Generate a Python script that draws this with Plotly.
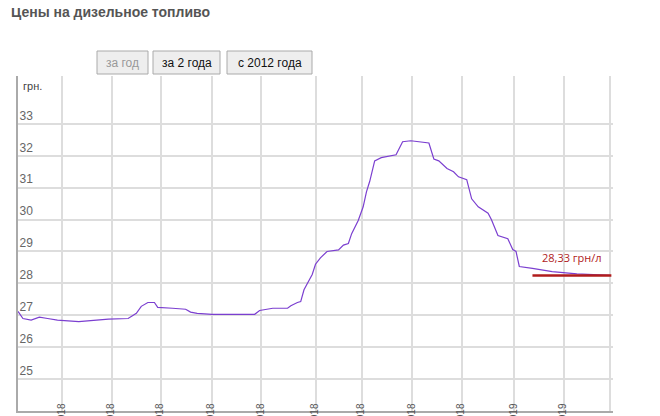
import plotly.graph_objects as go

# цены на дизель, грн/л
dates = [
    '2018-03-06', '2018-03-09', '2018-03-14', '2018-03-19', '2018-03-24', '2018-03-30',
    '2018-04-12', '2018-04-30', '2018-05-12', '2018-05-17', '2018-05-20', '2018-05-24',
    '2018-05-28', '2018-05-30', '2018-06-08', '2018-06-16', '2018-06-19', '2018-06-23',
    '2018-07-02', '2018-07-28', '2018-07-31', '2018-08-08', '2018-08-17', '2018-08-19',
    '2018-08-23', '2018-08-25', '2018-08-27', '2018-08-30', '2018-09-01', '2018-09-03',
    '2018-09-06', '2018-09-10', '2018-09-17', '2018-09-20', '2018-09-23', '2018-09-25',
    '2018-09-29', '2018-10-02', '2018-10-04', '2018-10-06', '2018-10-09', '2018-10-13',
    '2018-10-22', '2018-10-26', '2018-10-31', '2018-11-11', '2018-11-14', '2018-11-17',
    '2018-11-22', '2018-11-26', '2018-11-29', '2018-12-04', '2018-12-07', '2018-12-11',
    '2018-12-17', '2018-12-19', '2018-12-23', '2018-12-29', '2019-01-01', '2019-01-03',
    '2019-01-05', '2019-01-13', '2019-01-25', '2019-02-09', '2019-03-01',
]
prices = [
    27.12, 26.9, 26.85, 26.94, 26.9, 26.85,
    26.8, 26.88, 26.9, 27.06, 27.28, 27.4,
    27.4, 27.25, 27.22, 27.19, 27.1, 27.06,
    27.03, 27.03, 27.15, 27.22, 27.22, 27.3,
    27.4, 27.43, 27.8, 28.1, 28.28, 28.6,
    28.8, 29.0, 29.05, 29.2, 29.25, 29.56,
    29.97, 30.4, 30.87, 31.2, 31.84, 31.94,
    32.03, 32.44, 32.47, 32.4, 31.9, 31.84,
    31.6, 31.5, 31.34, 31.25, 30.65, 30.4,
    30.2, 30.0, 29.5, 29.4, 29.06, 29.0,
    28.53, 28.47, 28.37, 28.3, 28.25,
]
tick_dates = ['2018-04-02', '2018-05-02', '2018-06-01', '2018-07-02', '2018-08-01',
              '2018-09-03', '2018-10-01', '2018-11-01', '2018-12-01', '2019-01-02',
              '2019-02-01', '2019-03-01']
tick_text = ['02.04.2018', '02.05.2018', '01.06.2018', '02.07.2018', '01.08.2018',
             '03.09.2018', '01.10.2018', '01.11.2018', '01.12.2018', '02.01.2019',
             '01.02.2019', '01.03.2019']
y_ticks = [25, 26, 27, 28, 29, 30, 31, 32, 33]
current_price = 28.25
current_label = '28,33 грн/л'
buttons = ['за год', 'за 2 года', 'с 2012 года']

fig = go.Figure()
fig.add_trace(go.Scatter(x=dates, y=prices, mode='lines',
                         line=dict(color='#7b3fd0', width=1.2), hoverinfo='skip'))
fig.add_trace(go.Scatter(x=['2019-01-13', '2019-03-02'], y=[current_price] * 2, mode='lines',
                         line=dict(color='#b01c1c', width=2.5), hoverinfo='skip'))
fig.add_annotation(x='2019-02-06', y=current_price, text=current_label, showarrow=False,
                   yshift=18, font=dict(color='#b01c1c', size=11, family='Open Sans'))

fig.update_layout(
    width=660, height=416, showlegend=False,
    margin=dict(l=10, r=55, t=68, b=13, autoexpand=False),
    paper_bgcolor='white', plot_bgcolor='white',
    font=dict(family='Arial', color='#555'),
    xaxis=dict(range=['2018-03-06', '2019-03-03'], tickvals=tick_dates, ticktext=tick_text,
               tickangle=-90, ticklabelposition='inside left', tickfont=dict(size=10, color='#555'),
               showgrid=True, gridcolor='#ddd', gridwidth=1.5, automargin=False,
               showline=True, linecolor='#aaa', linewidth=2, zeroline=False),
    yaxis=dict(range=[24, 34.5], tickvals=y_ticks, ticklabelposition='inside top',
               tickfont=dict(size=12, color='#666'), automargin=False,
               showgrid=True, gridcolor='#ddd', gridwidth=1.5,
               showline=True, linecolor='#aaa', linewidth=2, zeroline=False),
)

fig.add_annotation(xref='paper', yref='paper', x=-0.015, y=1.19, xanchor='left', yanchor='middle',
                   text='<b>Цены на дизельное топливо</b>', showarrow=False,
                   font=dict(size=14, color='#555'))
fig.add_annotation(xref='paper', yref='paper', x=0.005, y=0.995, xanchor='left', yanchor='top',
                   text='грн.', showarrow=False, font=dict(size=11, color='#444'))

# кнопки периода
btn_x = [(89, 140), (145, 212), (219, 304)]
for (x0, x1), label in zip(btn_x, buttons):
    fig.add_shape(type='rect', xref='paper', yref='paper',
                  x0=(x0 - 10) / 595, x1=(x1 - 10) / 595,
                  y0=(403 - 66) / 335, y1=(403 - 43) / 335,
                  line=dict(color='#aaa', width=1), fillcolor='#eee')
    fig.add_annotation(xref='paper', yref='paper', x=((x0 + x1) / 2 - 10) / 595,
                       y=(403 - 54.5) / 335, xanchor='center', yanchor='middle',
                       text=label, showarrow=False,
                       font=dict(size=12, color='#999' if label == 'за год' else '#111'))

fig.write_html('out.html')
